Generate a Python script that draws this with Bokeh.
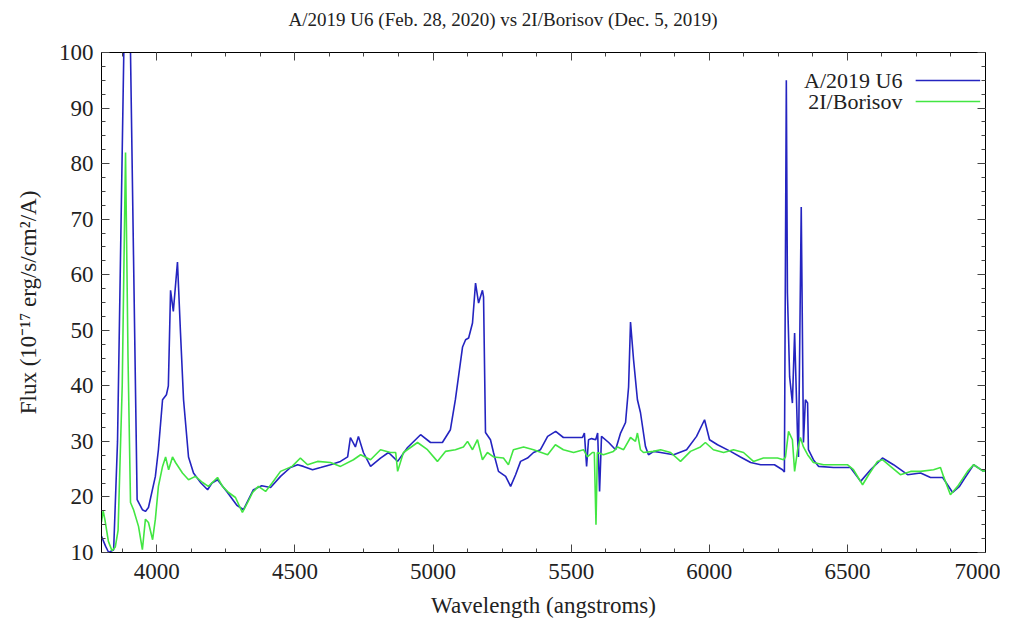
from bokeh.plotting import figure
from bokeh.models import Range1d, SingleIntervalTicker, LinearAxis, Label
from bokeh.embed import file_html
from bokeh.resources import INLINE

# ---------------- data ----------------
u6_wave = [3800, 3815, 3826, 3844, 3858, 3884, 3902, 3929, 3948, 3959, 3970, 3995, 4006, 4021,
           4035, 4042, 4050, 4060, 4075, 4086, 4097, 4115, 4133, 4160, 4184, 4200, 4220, 4256,
           4290, 4314, 4350, 4380, 4412, 4448, 4484, 4510, 4531, 4564, 4593, 4629, 4665, 4691,
           4701, 4719, 4730, 4748, 4774, 4810, 4839, 4872, 4908, 4955, 4991, 5034, 5063, 5081,
           5107, 5118, 5129, 5143, 5154, 5165, 5179, 5183, 5190, 5208, 5219, 5237, 5263, 5281,
           5299, 5317, 5342, 5364, 5389, 5415, 5444, 5472, 5509, 5541, 5548, 5556, 5563, 5574,
           5589, 5596, 5603, 5610, 5636, 5661, 5679, 5697, 5708, 5715, 5726, 5740, 5751, 5769,
           5780, 5799, 5824, 5871, 5918, 5954, 5983, 6001, 6030, 6077, 6113, 6150, 6186, 6236,
           6265, 6272, 6279, 6283, 6291, 6301, 6309, 6320, 6323, 6333, 6341, 6348, 6356, 6359,
           6377, 6396, 6450, 6511, 6548, 6584, 6627, 6667, 6718, 6765, 6801, 6845, 6881, 6906,
           6921, 6957, 6993, 7000]
u6_flux = [12.9, 11.1, 10.0, 10.5, 30.0, 110.0, 110.0, 19.5, 17.7, 17.4, 18.1, 23.7, 28.5, 37.5,
           38.4, 40.0, 57.2, 53.4, 62.3, 49.5, 37.5, 27.2, 24.3, 22.5, 21.3, 22.5, 23.1, 20.8,
           18.5, 17.7, 21.3, 22.0, 21.7, 23.7, 25.3, 25.8, 25.5, 24.9, 25.3, 25.8, 26.4, 27.2,
           30.7, 29.0, 30.9, 28.0, 25.5, 27.0, 28.0, 26.4, 28.9, 31.2, 29.8, 29.8, 32.1, 37.5,
           47.0, 48.3, 48.6, 51.3, 58.5, 54.9, 57.2, 56.0, 31.6, 30.3, 28.0, 24.6, 23.7, 21.9,
           24.0, 26.4, 27.0, 28.0, 28.5, 30.9, 31.8, 30.7, 30.7, 30.7, 31.5, 25.5, 30.3, 30.5,
           30.3, 31.5, 21.0, 30.9, 29.8, 28.5, 31.5, 33.4, 39.8, 51.5, 44.7, 37.5, 35.2, 29.1,
           27.6, 28.2, 28.0, 27.6, 28.5, 30.9, 33.9, 30.3, 29.4, 28.2, 27.2, 26.2, 25.8, 25.8,
           24.9, 24.5, 95.0, 56.7, 41.6, 36.9, 49.5, 30.3, 27.2, 72.2, 29.8, 37.5, 36.9, 28.5,
           26.7, 25.5, 25.3, 25.3, 22.8, 24.9, 27.0, 25.8, 24.0, 24.3, 23.5, 23.5, 20.8, 21.9,
           23.1, 25.8, 24.6, 24.8]

bor_wave = [3800, 3806, 3812, 3825, 3838, 3850, 3860, 3875, 3887, 3896, 3905, 3916, 3934, 3948,
            3959, 3970, 3985, 3995, 4006, 4021, 4032, 4043, 4057, 4068, 4093, 4115, 4140, 4166,
            4187, 4220, 4238, 4260, 4285, 4310, 4329, 4347, 4368, 4394, 4419, 4448, 4490, 4520,
            4546, 4582, 4629, 4665, 4712, 4738, 4774, 4810, 4846, 4865, 4872, 4893, 4944, 4980,
            5016, 5045, 5081, 5110, 5125, 5143, 5161, 5179, 5197, 5219, 5255, 5273, 5291, 5328,
            5364, 5415, 5443, 5472, 5509, 5545, 5559, 5577, 5584, 5590, 5595, 5617, 5653, 5668,
            5690, 5715, 5733, 5740, 5751, 5762, 5798, 5824, 5860, 5896, 5932, 5968, 5986, 6015,
            6052, 6088, 6124, 6160, 6196, 6247, 6269, 6276, 6287, 6301, 6309, 6320, 6330, 6341,
            6356, 6377, 6414, 6464, 6500, 6522, 6555, 6577, 6609, 6627, 6656, 6692, 6729, 6765,
            6812, 6837, 6848, 6873, 6899, 6935, 6957, 6993, 7000]
bor_flux = [15.5, 17.5, 16.0, 12.0, 10.3, 11.0, 14.0, 40.0, 82.0, 45.0, 19.0, 17.7, 14.7, 10.5,
            16.0, 15.4, 12.3, 16.0, 21.9, 25.5, 27.2, 24.9, 27.2, 26.2, 24.3, 23.1, 23.7, 22.6,
            21.9, 23.5, 21.9, 20.8, 19.9, 17.2, 19.0, 20.8, 21.9, 21.0, 22.6, 24.6, 25.5, 27.0,
            25.8, 26.4, 26.2, 25.5, 26.7, 27.6, 26.7, 28.5, 28.0, 28.0, 24.6, 28.0, 29.8, 28.5,
            26.4, 28.2, 28.5, 29.0, 30.0, 28.5, 30.3, 26.7, 28.0, 27.2, 27.0, 25.8, 28.5, 29.0,
            28.5, 27.6, 29.4, 28.5, 28.0, 28.5, 27.2, 28.0, 28.0, 15.0, 28.0, 27.6, 28.2, 29.0,
            28.5, 30.7, 30.0, 31.5, 28.5, 28.0, 28.2, 28.5, 28.0, 26.4, 28.2, 29.0, 29.8, 28.5,
            28.0, 28.5, 28.0, 26.4, 27.0, 27.0, 26.7, 27.2, 31.8, 30.3, 24.6, 28.5, 30.7, 29.0,
            27.6, 26.2, 25.8, 25.8, 25.8, 24.9, 22.2, 24.0, 26.4, 26.7, 25.5, 24.0, 24.6, 24.6,
            24.9, 25.3, 23.7, 20.4, 21.9, 24.6, 25.8, 24.6, 24.8]

title_text = "A/2019 U6 (Feb. 28, 2020) vs 2I/Borisov (Dec. 5, 2019)"
series_names = ["A/2019 U6", "2I/Borisov"]
x_tick_labels = ["4000", "4500", "5000", "5500", "6000", "6500", "7000"]
y_tick_labels = ["10", "20", "30", "40", "50", "60", "70", "80", "90", "100"]

# ---------------- style ----------------
FONT = "Liberation Serif"
BLUE = "#2424c0"
GREEN = "#42e642"
X0, X1 = 3800, 7000
Y0, Y1 = 10, 100

W, H = 1000, 620
F_LEFT, F_RIGHT, F_TOP, F_BOTTOM = 101, 985, 52, 553
p = figure(width=W, height=H, output_backend="svg", toolbar_location=None,
           x_range=Range1d(X0, X1), y_range=Range1d(Y0, Y1),
           min_border_left=F_LEFT, min_border_right=W - F_RIGHT, min_border_top=F_TOP,
           min_border_bottom=H - F_BOTTOM,
           background_fill_color="white", border_fill_color="white")
p.grid.visible = False
p.outline_line_color = "black"
p.outline_line_width = 1

xt = SingleIntervalTicker(interval=500, num_minor_ticks=4)
yt = SingleIntervalTicker(interval=10, num_minor_ticks=4)

def style_axis(ax, labels=True):
    ax.major_tick_in = 8
    ax.major_tick_out = 0
    ax.minor_tick_in = 4
    ax.minor_tick_out = 0
    ax.axis_line_color = "black"
    ax.major_tick_line_color = "#444444"
    ax.minor_tick_line_color = "#444444"
    ax.major_label_text_font = FONT
    if labels:
        ax.major_label_text_font_size = "23px"
        ax.major_label_text_color = "#222222"
    else:
        ax.major_label_text_font_size = "1px"
        ax.major_label_text_color = None
        ax.major_label_standoff = 0
    ax.axis_label_text_font = FONT
    ax.axis_label_text_font_size = "23px"
    ax.axis_label_text_font_style = "normal"
    ax.axis_label_text_color = "#222222"

p.xaxis.ticker = xt
p.yaxis.ticker = yt
p.xaxis.major_label_overrides = {int(s): s for s in x_tick_labels}
p.yaxis.major_label_overrides = {int(s): s for s in y_tick_labels}
p.xaxis.axis_label = "Wavelength (angstroms)"
p.yaxis.axis_label = "Flux (10\u207b\u00b9\u2077 erg/s/cm\u00b2/A)"
style_axis(p.xaxis[0])
style_axis(p.yaxis[0])
p.xaxis.major_label_standoff = 11
p.yaxis.major_label_standoff = 8
p.xaxis.axis_label_standoff = 11
p.yaxis.axis_label_standoff = 15

# mirror axes (ticks only); the top one carries the chart title as its label,
# nudged left (trailing no-break spaces) so it is centred on the page like the original
top = LinearAxis(ticker=xt)
right = LinearAxis(ticker=yt)
style_axis(top, labels=False)
style_axis(right, labels=False)
top.axis_label = title_text + "\u00a0" * 17
top.axis_label_text_font_size = "19px"
top.axis_label_standoff = 23
p.add_layout(top, "above")
p.add_layout(right, "right")

p.line(u6_wave, u6_flux, line_color=BLUE, line_width=1.6)
p.line(bor_wave, bor_flux, line_color=GREEN, line_width=1.6)

# gnuplot-style key (text then sample line), placed by frame fractions
fx_text, fx_l0, fx_l1 = 0.906, 0.921, 0.994
fy_rows = [0.944, 0.902]
for name, col, fy in zip(series_names, [BLUE, GREEN], fy_rows):
    yy = Y0 + fy * (Y1 - Y0)
    p.add_layout(Label(x=X0 + fx_text * (X1 - X0), y=yy, text=name, text_align="right",
                       text_baseline="middle", text_font=FONT, text_font_size="22px",
                       text_color="#222222"))
    p.segment(x0=[X0 + fx_l0 * (X1 - X0)], y0=[yy], x1=[X0 + fx_l1 * (X1 - X0)], y1=[yy],
              line_color=col, line_width=1.6)

open("out.html", "w").write(file_html(p, INLINE))
